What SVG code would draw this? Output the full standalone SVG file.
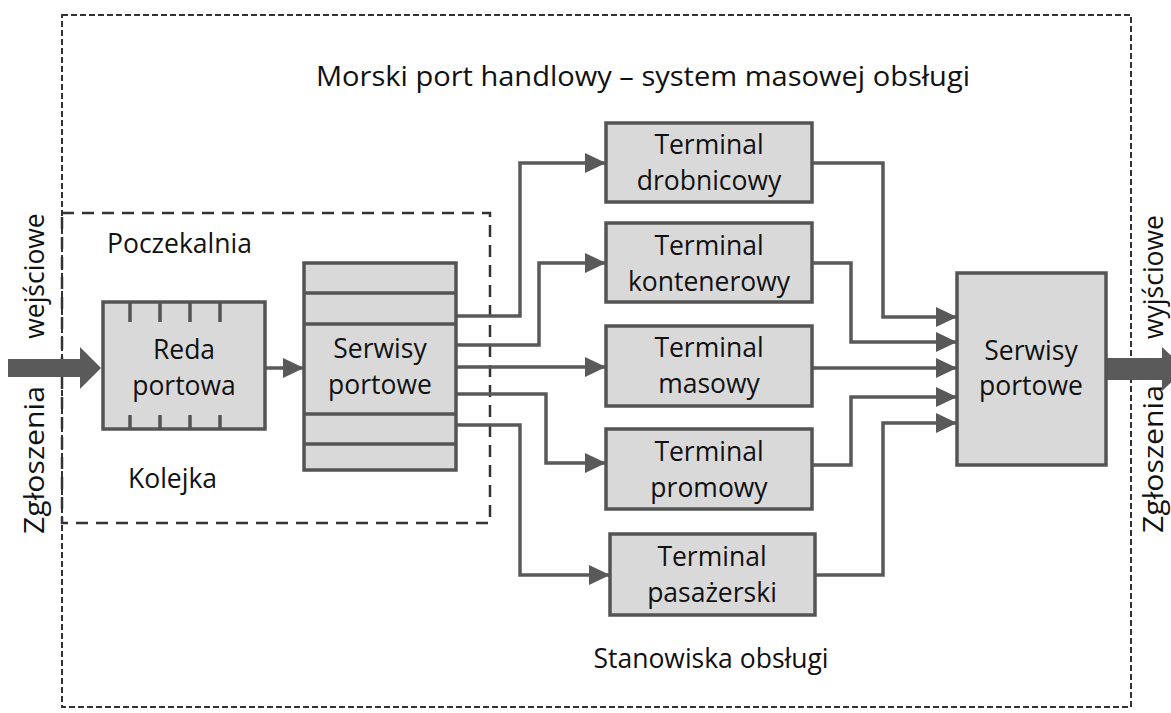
<svg xmlns="http://www.w3.org/2000/svg" width="1171" height="713" viewBox="0 0 1171 713">
<style>
.box{fill:#d9d9d9;stroke:#545454;stroke-width:3.5}
.t{font-family:"Open Sans","Noto Sans",sans-serif;font-size:26.5px;fill:#111;text-anchor:middle}
.l{font-family:"Open Sans","Noto Sans",sans-serif;font-size:26.5px;fill:#111}
.c{fill:none;stroke:#595959;stroke-width:3.5;marker-end:url(#ah)}
.tick{stroke:#545454;stroke-width:3.5}
.big{fill:#5a5a5a}
</style>
<defs>
<marker id="ah" markerUnits="userSpaceOnUse" markerWidth="22" markerHeight="20" refX="21" refY="10" orient="auto">
<path d="M0,0 L21,10 L0,20 z" fill="#595959"/>
</marker>
</defs>
<rect width="1171" height="713" fill="#fff"/>
<g id="frame">
<rect x="62" y="15" width="1069" height="692" fill="none" stroke="#333" stroke-width="2" stroke-dasharray="6,3"/>
<rect x="62" y="213" width="428" height="310" fill="none" stroke="#333" stroke-width="2.5" stroke-dasharray="12,8"/>
</g>
<g id="labels">
<text class="t" x="643" y="86" font-size="27.5" textLength="654" lengthAdjust="spacingAndGlyphs">Morski port handlowy – system masowej obsługi</text>
<text class="l" x="107" y="253">Poczekalnia</text>
<text class="l" x="128" y="488">Kolejka</text>
<text class="t" x="711" y="668">Stanowiska obsługi</text>
<text class="t" transform="translate(44,460) rotate(-90)" textLength="148" lengthAdjust="spacingAndGlyphs">Zgłoszenia</text>
<text class="t" transform="translate(44,276) rotate(-90)">wejściowe</text>
<text class="t" transform="translate(1163,459) rotate(-90)" textLength="148" lengthAdjust="spacingAndGlyphs">Zgłoszenia</text>
<text class="t" transform="translate(1163,277) rotate(-90)">wyjściowe</text>
</g>
<g id="big-arrows">
<polygon class="big" points="8,359 80,359 80,347 101,368 80,389 80,377 8,377"/>
<polygon class="big" points="1106,358 1162,358 1162,347 1185,369 1162,391 1162,380 1106,380"/>
</g>
<g id="connectors">
<path class="c" d="M265,368 H304"/>
<path class="c" d="M456,316 H520 V163 H606"/>
<path class="c" d="M456,345 H539 V263 H606"/>
<path class="c" d="M456,367 H606"/>
<path class="c" d="M456,394 H546 V463 H606"/>
<path class="c" d="M456,425 H520 V575 H610"/>
<path class="c" d="M812,163 H883 V317 H957"/>
<path class="c" d="M812,263 H851 V342 H957"/>
<path class="c" d="M812,368 H957"/>
<path class="c" d="M812,465 H851 V397 H957"/>
<path class="c" d="M815,575 H883 V423 H957"/>
</g>
<g id="reda">
<rect class="box" x="103" y="302" width="162" height="127"/>
<path class="tick" d="M130,302 V322 M160,302 V322 M190,302 V322 M220,302 V322 M130,429 V415 M160,429 V415 M190,429 V415 M220,429 V415"/>
<text class="t" x="184" y="359">Reda</text>
<text class="t" x="184" y="395">portowa</text>
</g>
<g id="serwisy-in">
<rect class="box" x="304" y="263" width="152" height="207"/>
<path class="tick" d="M304,293 H456 M304,324 H456 M304,414 H456 M304,444 H456"/>
<text class="t" x="380" y="358">Serwisy</text>
<text class="t" x="380" y="394">portowe</text>
</g>
<g id="t-drobnicowy">
<rect class="box" x="606" y="123" width="206" height="79"/>
<text class="t" x="709" y="154">Terminal</text>
<text class="t" x="709" y="190">drobnicowy</text>
</g>
<g id="t-kontenerowy">
<rect class="box" x="606" y="223" width="206" height="79"/>
<text class="t" x="709" y="255">Terminal</text>
<text class="t" x="709" y="291">kontenerowy</text>
</g>
<g id="t-masowy">
<rect class="box" x="606" y="326" width="206" height="80"/>
<text class="t" x="709" y="357">Terminal</text>
<text class="t" x="709" y="393">masowy</text>
</g>
<g id="t-promowy">
<rect class="box" x="606" y="429" width="206" height="80"/>
<text class="t" x="709" y="461">Terminal</text>
<text class="t" x="709" y="497">promowy</text>
</g>
<g id="t-pasazerski">
<rect class="box" x="610" y="534" width="205" height="81"/>
<text class="t" x="712" y="566">Terminal</text>
<text class="t" x="712" y="602">pasażerski</text>
</g>
<g id="serwisy-out">
<rect class="box" x="957" y="273" width="149" height="192"/>
<text class="t" x="1031" y="360">Serwisy</text>
<text class="t" x="1031" y="395">portowe</text>
</g>
</svg>
